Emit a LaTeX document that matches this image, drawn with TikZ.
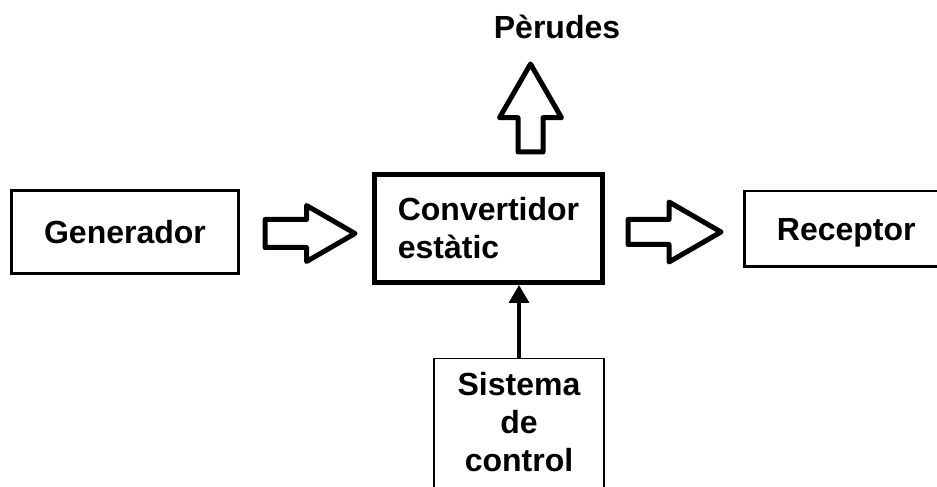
\documentclass[tikz,border=0pt]{standalone}
\usepackage{fontspec}
\setmainfont{Liberation Sans}
\usetikzlibrary{arrows.meta,shapes.arrows}

\begin{document}
\begin{tikzpicture}[x=1pt,y=1pt,
                    every node/.style={font=\fontsize{32}{38}\selectfont\bfseries},
                    box/.style={rectangle,draw,inner sep=0pt},
                    blockarrow/.style={single arrow,draw,line width=5pt,line join=round,
                                       inner xsep=0pt,single arrow tip angle=60,anchor=tail}]

\useasboundingbox (0,0) rectangle (937,487);

\node[box,line width=3pt,minimum width=227pt,minimum height=83pt] (gen) at (125,255) {Generador};
\node[box,line width=5pt,minimum width=228pt,minimum height=108pt,align=left] (conv) at (488.5,258.5) {Convertidor\\est\`atic};
\node[box,line width=2.5pt,minimum width=204pt,minimum height=75.5pt,anchor=west,text depth=0pt] (rec) at (743,258) {Receptor};
\node[box,line width=1.5pt,minimum width=170pt,align=center,anchor=north,inner ysep=14pt,text depth=30pt] (ctrl) at (519,129) {Sistema\\de\\control};
\node (peru) at (557,460) {P\`erudes};

% block arrows
\node[blockarrow,minimum height=90pt,inner ysep=11.5pt,single arrow head extend=14pt] (arrA) at (262.5,253.5) {};
\node[blockarrow,minimum height=93pt,inner ysep=10pt,single arrow head extend=17.5pt] (arrB) at (625.5,255) {};
\node[blockarrow,rotate=90,minimum height=88pt,inner ysep=10pt,single arrow head extend=18.5pt] (arrC) at (530.5,332.5) {};

\draw[line width=3.5pt,-{Triangle[width=20pt,length=18pt]}] (ctrl.north) -- (ctrl.north |- conv.south);

\end{tikzpicture}
\end{document}
